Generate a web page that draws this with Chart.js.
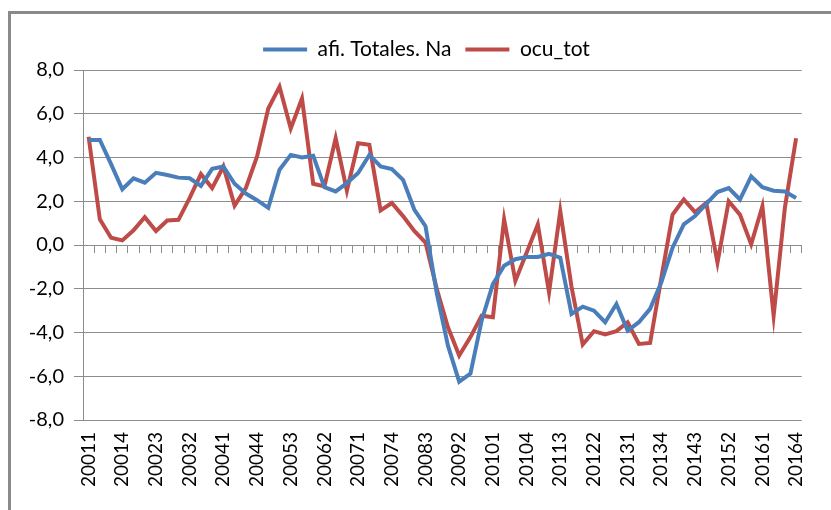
<!DOCTYPE html>
<html>
<head>
<meta charset="utf-8">
<script src="https://cdn.jsdelivr.net/npm/chart.js@4/dist/chart.umd.min.js"></script>
<style>
  html, body { margin: 0; padding: 0; background: #fff; overflow: hidden; }
  #wrap { position: relative; width: 831px; height: 510px; }
  #frame { position: absolute; left: 8px; top: 11px; width: 900px; height: 600px;
           border-left: 3px solid #8a8a8a; border-top: 3px solid #8a8a8a; }
</style>
</head>
<body>
<div id="wrap">
  <div id="frame"></div>
  <canvas id="chart"></canvas>
</div>
<script>
// quarters 2001Q1 .. 2016Q4 (year + quarter)
const quarters = [];
for (let y = 2001; y <= 2016; y++) {
  for (let q = 1; q <= 4; q++) quarters.push(String(y) + q);
}

// afi. Totales. Na
const afiTotales = [
  4.8, 4.8, 3.7, 2.55, 3.05, 2.85, 3.3, 3.2, 3.08, 3.05,
  2.7, 3.48, 3.59, 2.8, 2.35, 2.05, 1.7, 3.44, 4.12, 4.0,
  4.08, 2.64, 2.45, 2.83, 3.29, 4.12, 3.59, 3.47, 2.98, 1.62,
  0.86, -2.2, -4.6, -6.25, -5.88, -3.45, -1.79, -0.95, -0.65, -0.55,
  -0.55, -0.4, -0.58, -3.15, -2.82, -3.0, -3.53, -2.7, -3.91, -3.53,
  -2.92, -1.7, -0.12, 0.94, 1.32, 1.88, 2.42, 2.6, 2.08, 3.14,
  2.64, 2.48, 2.45, 2.15
];

// ocu_tot
const ocuTot = [
  4.95, 1.17, 0.33, 0.21, 0.67, 1.27, 0.64, 1.12, 1.15, 2.15,
  3.24, 2.6, 3.59, 1.8, 2.6, 4.05, 6.24, 7.23, 5.33, 6.7,
  2.8, 2.68, 4.88, 2.48, 4.65, 4.58, 1.58, 1.92, 1.32, 0.64,
  0.11, -2.0, -3.76, -5.05, -4.21, -3.23, -3.3, 1.17, -1.64, -0.35,
  0.94, -2.17, 1.55, -1.9, -4.55, -3.94, -4.09, -3.94, -3.53, -4.52,
  -4.48, -1.5, 1.39, 2.08, 1.5, 1.92, -0.8, 2.0, 1.39, 0.03,
  1.77, -3.23, 1.7, 4.88
];

const yTicks = [-8, -6, -4, -2, 0, 2, 4, 6, 8];

const BLUE = '#4a7ebb';
const RED = '#be4b48';
const GRID = '#8c8c8c';
const FONT = 'Lato, "Open Sans", sans-serif';

new Chart(document.getElementById('chart'), {
  type: 'line',
  data: {
    labels: quarters,
    datasets: [
      { label: 'afi. Totales. Na', data: afiTotales, borderColor: BLUE, backgroundColor: BLUE,
        borderWidth: 4, pointRadius: 0, tension: 0 },
      { label: 'ocu_tot', data: ocuTot, borderColor: RED, backgroundColor: RED,
        borderWidth: 4, pointRadius: 0, tension: 0 }
    ]
  },
  options: {
    responsive: true,
    maintainAspectRatio: false,
    animation: false,
    layout: { padding: { left: 22, right: 0, top: 25, bottom: 0 } },
    plugins: {
      tooltip: { enabled: false },
      legend: {
        position: 'top',
        labels: {
          font: { family: FONT, size: 21 },
          color: '#000',
          boxWidth: 44,
          boxHeight: 4,
          padding: 14,
          generateLabels: (chart) =>
            Chart.defaults.plugins.legend.labels.generateLabels(chart).map(l => ({ ...l, lineWidth: 0 }))
        }
      }
    },
    scales: {
      x: {
        type: 'category',
        position: 'bottom',
        offset: true,
        grid: { display: false, drawTicks: false },
        border: { display: false },
        ticks: {
          autoSkip: false,
          minRotation: 90,
          maxRotation: 90,
          padding: 12,
          color: '#000',
          font: { family: FONT, size: 19 },
          callback: function (val, i) { return i % 3 === 0 ? this.getLabelForValue(val) : ''; }
        },
        afterFit: (s) => { s.height = 90; }
      },
      x2: {
        type: 'category',
        position: { y: 0 },
        offset: true,
        grid: { drawOnChartArea: false, offset: true, tickLength: 7, color: GRID },
        border: { display: true, color: GRID },
        ticks: { display: false, autoSkip: false }
      },
      y: {
        min: -8,
        max: 8,
        afterBuildTicks: (s) => { s.ticks = yTicks.map(v => ({ value: v })); },
        grid: { color: GRID, tickLength: 9 },
        border: { color: GRID },
        ticks: {
          padding: 10,
          color: '#000',
          font: { family: FONT, size: 20 },
          callback: (v) => v.toFixed(1).replace('.', ',')
        },
        afterFit: (s) => { s.width = 61; }
      },
      // empty right-hand margin
      yR: {
        position: 'right',
        grid: { display: false, drawTicks: false },
        border: { display: false },
        ticks: { display: false },
        afterFit: (s) => { s.width = 14; }
      }
    }
  }
});
</script>
</body>
</html>
